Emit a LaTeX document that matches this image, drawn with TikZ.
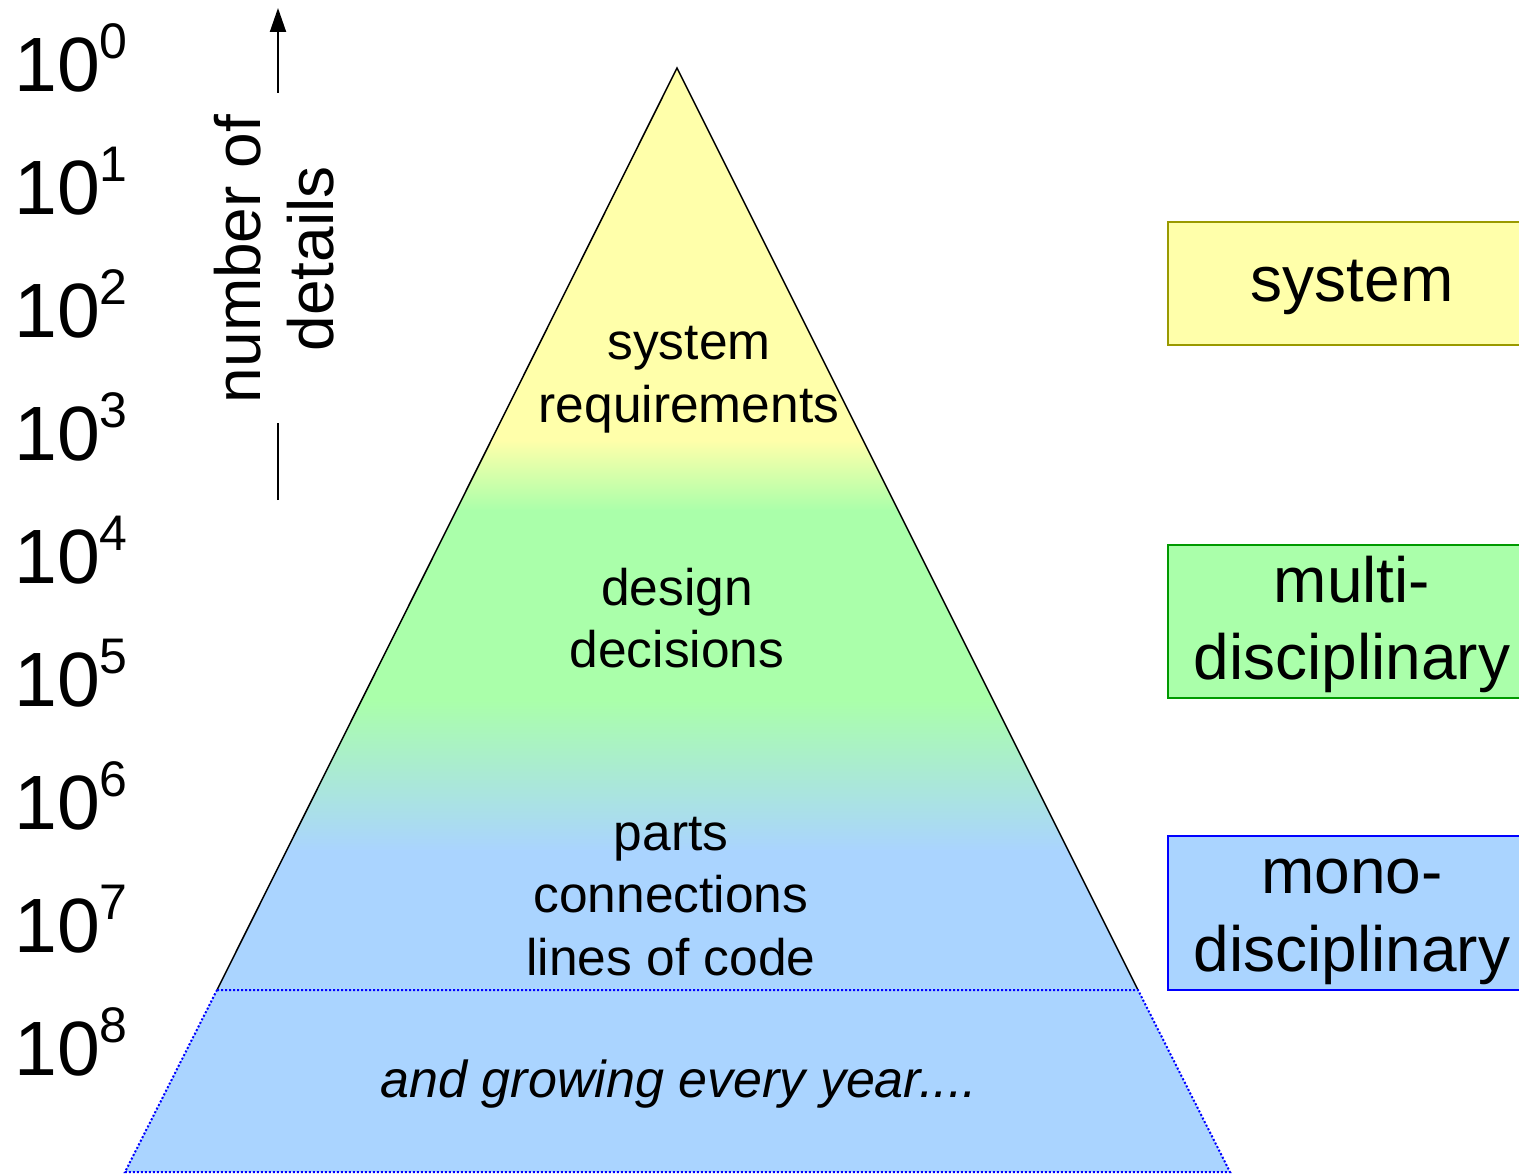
\documentclass[tikz,border=0pt]{standalone}
\usepackage{fontspec}
\setmainfont{Liberation Sans}
\usetikzlibrary{arrows.meta}
\definecolor{pyellow}{HTML}{FFFFAA}
\definecolor{pgreen}{HTML}{AAFFAA}
\definecolor{pblue}{HTML}{AAD4FF}
\definecolor{yborder}{HTML}{999900}
\definecolor{gborder}{HTML}{009900}
\definecolor{bborder}{HTML}{0000FF}
\begin{document}
\begin{tikzpicture}[x=1pt,y=-1pt,
  axlbl/.style={font=\fontsize{77}{80}\selectfont, inner sep=0pt, anchor=base west},
  lbl/.style={font=\fontsize{51.5}{62}\selectfont, inner sep=0pt, anchor=base},
  boxtxt/.style={font=\fontsize{64}{76}\selectfont, inner sep=0pt, anchor=base},
  rot/.style={font=\fontsize{64}{76}\selectfont, inner sep=0pt, anchor=base, rotate=90},
  levelbox/.style={draw, line width=1.5pt, minimum width=368pt, inner sep=0pt},
  edge/.style={line width=1.5pt}
]
\useasboundingbox (0,0) rectangle (1519,1174);

% axis labels
\foreach \k in {0,...,8}
  \node[axlbl] (exp\k) at (14, {92+122.9*\k}) {10\raisebox{33pt}{\fontsize{50}{50}\selectfont\k}};

% pyramid coordinates
\coordinate (apex) at (677,68);
\coordinate (bl) at (217,990);
\coordinate (br) at (1138,990);
\coordinate (tl) at (125,1172);
\coordinate (tr) at (1230,1172);

% gradient fill of triangle
\begin{scope}
  \clip (apex) -- (bl) -- (br) -- cycle;
  \fill[pyellow] (200,50) rectangle (1150,441);
  \shade[top color=pyellow, bottom color=pgreen] (200,440) rectangle (1150,511);
  \fill[pgreen] (200,510) rectangle (1150,701);
  \shade[top color=pgreen, bottom color=pblue] (200,700) rectangle (1150,851);
  \fill[pblue] (200,850) rectangle (1150,995);
\end{scope}
\draw[edge] (bl) -- (apex) -- (br);

% lower trapezoid
\fill[pblue] (bl) -- (br) -- (tr) -- (tl) -- cycle;
\draw[bborder, dotted, line width=2pt] (bl) -- (br) -- (tr) -- (tl) -- cycle;

% pyramid texts
\node[lbl] (sr1) at (689,360) {system};
\node[lbl] (sr2) at (689,423) {requirements};
\node[lbl] (dd1) at (677,605) {design};
\node[lbl] (dd2) at (677,667) {decisions};
\node[lbl] (pc1) at (671,850) {parts};
\node[lbl] (pc2) at (671,912) {connections};
\node[lbl] (pc3) at (671,975) {lines of code};
\node[lbl, font=\fontsize{52}{62}\selectfont\itshape] (grow) at (679,1097) {and growing every year....};

% axis title and arrow
\node[rot] (numof) at (260,259) {number of};
\node[rot] (det) at (333,259) {details};
\coordinate (atop) at (278,8);
\coordinate (amid) at (278,93);
\coordinate (alow1) at (278,423);
\coordinate (alow2) at (278,500);
\draw[line width=2pt, -{Triangle[length=24pt,width=16pt]}] (amid) -- (atop);
\draw[line width=2pt] (alow2) -- (alow1);

% level boxes
\node[levelbox, fill=pyellow, draw=yborder, minimum height=123pt] (sysbox) at (1352,283.5) {};
\node[boxtxt] (systxt) at (1352,302) {system};
\node[levelbox, fill=pgreen, draw=gborder, minimum height=153pt] (multibox) at (1352,621.5) {};
\node[boxtxt] (multi1) at (1352,602) {multi-};
\node[boxtxt] (multi2) at (1352,679) {disciplinary};
\node[levelbox, fill=pblue, draw=bborder, minimum height=154pt] (monobox) at (1352,913) {};
\node[boxtxt] (mono1) at (1352,893) {mono-};
\node[boxtxt] (mono2) at (1352,971) {disciplinary};
\end{tikzpicture}
\end{document}
